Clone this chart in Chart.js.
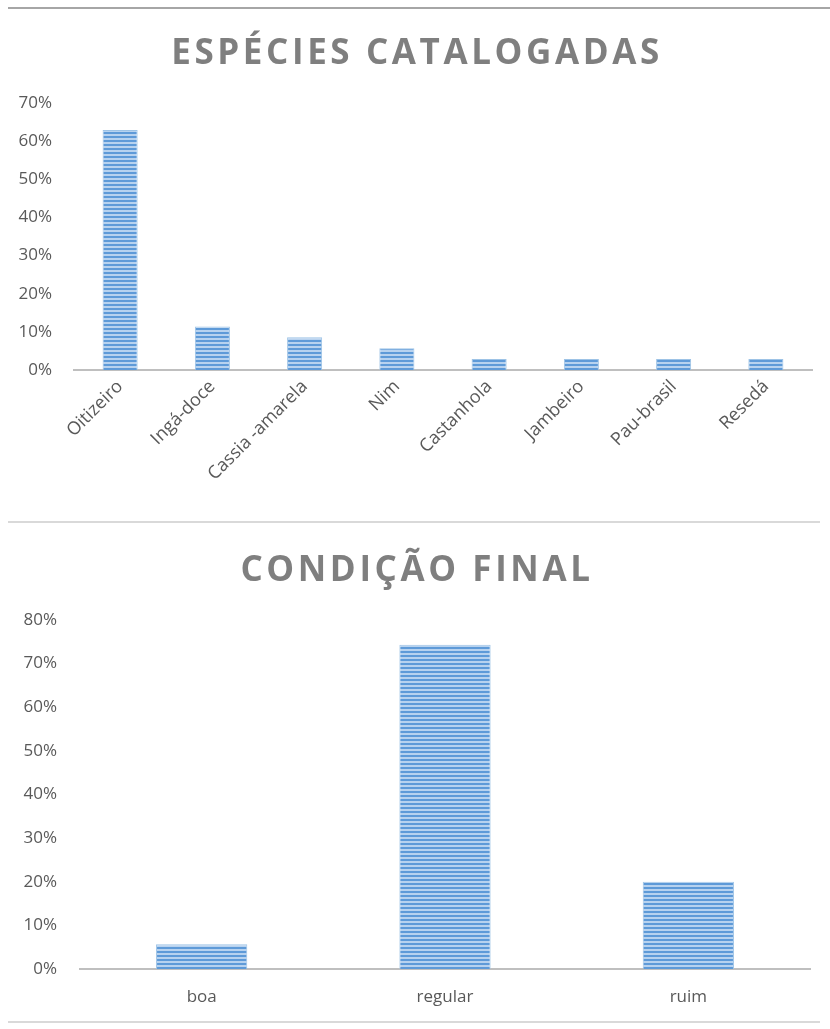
<!DOCTYPE html>
<html>
<head>
<meta charset="utf-8">
<script src="https://cdn.jsdelivr.net/npm/chart.js@4/dist/chart.umd.min.js"></script>
<style>
  body { margin: 0; background: #fff; width: 830px; height: 1029px; position: relative; overflow: hidden; }
  .rule { position: absolute; left: 8px; right: 0; }
  #top-rule { top: 7px; height: 2px; background: #a6a6a6; }
  #mid-rule { top: 521px; height: 2px; background: #d9d9d9; right: 10px; }
  #end-rule { top: 1021px; height: 2px; background: #d9d9d9; right: 10px; }
  canvas { position: absolute; left: 0; }
  #species-chart { top: 10px; }
  #condition-chart { top: 525px; }
</style>
</head>
<body>
<div class="rule" id="top-rule"></div>
<canvas id="species-chart" width="830" height="512"></canvas>
<div class="rule" id="mid-rule"></div>
<canvas id="condition-chart" width="830" height="495"></canvas>
<div class="rule" id="end-rule"></div>
<script>
const speciesLabels = ['Oitizeiro', 'Ingá-doce', 'Cassia -amarela', 'Nim', 'Castanhola', 'Jambeiro', 'Pau-brasil', 'Resedá'];
const speciesValues = [62.9, 11.4, 8.6, 5.7, 2.9, 2.9, 2.9, 2.9];

const conditionLabels = ['boa', 'regular', 'ruim'];
const conditionValues = [5.7, 74.3, 20.0];

const textGray = '#595959';
const titleGray = '#7f7f7f';
const fontFamily = '"Open Sans", sans-serif';

// horizontal striped fill used by the bars
function stripePattern() {
    const c = document.createElement('canvas');
    c.width = 4;
    c.height = 4;
    const g = c.getContext('2d');
    g.fillStyle = '#b7d2ef';
    g.fillRect(0, 0, 4, 4);
    g.fillStyle = '#5e9ad8';
    g.fillRect(0, 2, 4, 2);
    return g.createPattern(c, 'repeat');
}

// spaced-out title letters, centred on the whole canvas
const titleSpacing = {
    id: 'titleSpacing',
    afterInit(chart) {
        const block = chart.titleBlock;
        const draw = block.draw.bind(block);
        block.draw = function () {
            const pad = chart.options.layout.padding;
            chart.ctx.save();
            chart.ctx.translate((pad.right - pad.left) / 2 + 2, 0);
            chart.ctx.letterSpacing = '3.6px';
            draw();
            chart.ctx.restore();
        };
    }
};

function drawBarChart(id, labels, values, title, opts) {
    const ctx = document.getElementById(id).getContext('2d');
    return new Chart(ctx, {
        type: 'bar',
        data: {
            labels: labels,
            datasets: [{
                data: values,
                backgroundColor: stripePattern(),
                borderColor: '#9dc3e6',
                borderWidth: 1,
                categoryPercentage: 1,
                barPercentage: opts.barPercentage
            }]
        },
        options: {
            responsive: false,
            animation: false,
            layout: { padding: { left: 0, right: opts.right, top: 0, bottom: 0 } },
            plugins: {
                legend: { display: false },
                tooltip: { enabled: false },
                title: {
                    display: true,
                    text: title,
                    color: titleGray,
                    font: { family: fontFamily, size: 35, weight: 'bold', lineHeight: 1.2 },
                    padding: { top: opts.titleTop, bottom: opts.titleBottom }
                }
            },
            scales: {
                x: {
                    grid: { display: false, drawTicks: false },
                    border: { display: true, color: '#bfbfbf', width: 2 },
                    ticks: {
                        color: textGray,
                        font: { family: fontFamily, size: opts.xFont },
                        minRotation: opts.rotation,
                        maxRotation: opts.rotation,
                        autoSkip: false,
                        padding: opts.xPad
                    },
                    afterFit(scale) { scale.height = opts.xHeight; }
                },
                y: {
                    min: 0,
                    max: opts.max,
                    grid: { display: false, drawTicks: false },
                    border: { display: false },
                    ticks: {
                        stepSize: 10,
                        color: textGray,
                        font: { family: fontFamily, size: 17 },
                        padding: opts.yPad,
                        callback: (v) => v + '%'
                    },
                    afterFit(scale) { scale.width = opts.yWidth; }
                }
            }
        },
        plugins: [titleSpacing]
    });
}

drawBarChart('species-chart', speciesLabels, speciesValues, 'ESPÉCIES CATALOGADAS', {
    max: 70, barPercentage: 0.38, right: 18, yWidth: 74, yPad: 22,
    xHeight: 152, xFont: 18, rotation: 45, xPad: 6,
    titleTop: 23, titleBottom: 28
});

drawBarChart('condition-chart', conditionLabels, conditionValues, 'CONDIÇÃO FINAL', {
    max: 80, barPercentage: 0.375, right: 20, yWidth: 80, yPad: 23,
    xHeight: 51, xFont: 17, rotation: 0, xPad: 18,
    titleTop: 25, titleBottom: 28
});
</script>
</body>
</html>
